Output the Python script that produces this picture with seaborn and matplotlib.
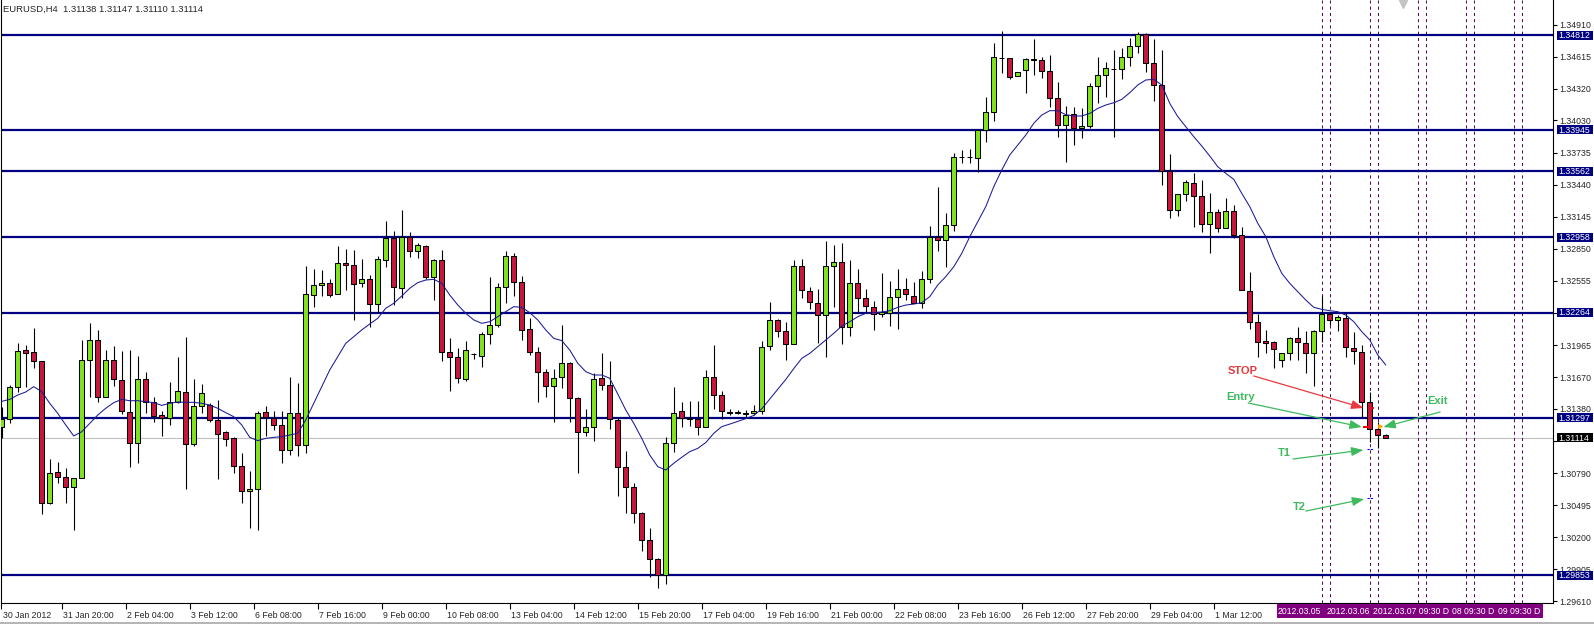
import numpy as np
import pandas as pd
import matplotlib
matplotlib.use("Agg")
import matplotlib.pyplot as plt
import matplotlib.transforms as mtransforms
from matplotlib.patches import Rectangle
from matplotlib.lines import Line2D
import seaborn as sns

# EURUSD H4 candles (bar 0 = leftmost)
opens = [
    1.31210, 1.31284, 1.31578, 1.31918, 1.31899, 1.31817, 1.30518, 1.30797, 1.30751, 1.30659,
    1.30742, 1.31826, 1.32010, 1.31492, 1.31826, 1.31642, 1.31348, 1.31063, 1.31651, 1.31440,
    1.31320, 1.31299, 1.31440, 1.31532, 1.31054, 1.31403, 1.31418, 1.31275, 1.31164, 1.31109,
    1.30852, 1.30622, 1.30640, 1.31348, 1.31293, 1.31229, 1.30999, 1.31339, 1.31045, 1.32423,
    1.32515, 1.32533, 1.32432, 1.32717, 1.32699, 1.32534, 1.32570, 1.32341, 1.32748, 1.32947,
    1.32488, 1.32962, 1.32831, 1.32874, 1.32595, 1.32748, 1.31906, 1.31854, 1.31658, 1.31884,
    1.31863, 1.32065, 1.32148, 1.32497, 1.32782, 1.32543, 1.32111, 1.31900, 1.31716, 1.31587,
    1.31670, 1.31799, 1.31477, 1.31164, 1.31210, 1.31661, 1.31596, 1.31278, 1.30843, 1.30659,
    1.30420, 1.30175, 1.30000, 1.29854, 1.31070, 1.31360, 1.31293, 1.31290, 1.31210, 1.31670,
    1.31504, 1.31340, 1.31340, 1.31330, 1.31345, 1.31360, 1.31954, 1.32193, 1.32092, 1.31976,
    1.32689, 1.32466, 1.32356, 1.32239, 1.32689, 1.32726, 1.32132, 1.32533, 1.32398, 1.32316,
    1.32248, 1.32264, 1.32405, 1.32481, 1.32414, 1.32349, 1.32570, 1.32962, 1.32928, 1.33066,
    1.33691, 1.33691, 1.33682, 1.33939, 1.34105, 1.34604, 1.34601, 1.34435, 1.34491, 1.34589,
    1.34582, 1.34481, 1.34233, 1.33985, 1.34086, 1.33958, 1.33976, 1.34346, 1.34445, 1.34503,
    1.34500, 1.34610, 1.34711, 1.34821, 1.34555, 1.34353, 1.33569, 1.33204, 1.33351, 1.33452,
    1.33333, 1.33077, 1.33186, 1.33039, 1.33201, 1.32974, 1.32460, 1.32175, 1.32003, 1.31991,
    1.31826, 1.31890, 1.32031, 1.31982, 1.31890, 1.32095, 1.32252, 1.32196, 1.32212, 1.31936,
    1.31899, 1.31446, 1.31192, 1.31138,
]
highs = [
    1.31400, 1.31599, 1.31982, 1.31967, 1.32126, 1.31817, 1.30919, 1.30895, 1.30833, 1.30742,
    1.32013, 1.32166, 1.32105, 1.31921, 1.31958, 1.31912, 1.31921, 1.31866, 1.31716, 1.31486,
    1.31357, 1.31627, 1.31856, 1.32040, 1.31651, 1.31608, 1.31430, 1.31458, 1.31180, 1.31120,
    1.30971, 1.30809, 1.31357, 1.31403, 1.31357, 1.31357, 1.31673, 1.31618, 1.32693, 1.32665,
    1.32653, 1.32573, 1.32876, 1.32849, 1.32840, 1.32754, 1.32607, 1.32785, 1.33106, 1.33011,
    1.33207, 1.33005, 1.32901, 1.32883, 1.32754, 1.32840, 1.32028, 1.31936, 1.32001, 1.31897,
    1.32083, 1.32589, 1.32534, 1.32831, 1.32812, 1.32598, 1.32212, 1.31946, 1.31743, 1.31743,
    1.32148, 1.31810, 1.31486, 1.31376, 1.31713, 1.31893, 1.31817, 1.31305, 1.30990, 1.30696,
    1.30432, 1.30288, 1.30010, 1.31125, 1.31578, 1.31446, 1.31449, 1.31455, 1.31737, 1.31964,
    1.31540, 1.31380, 1.31370, 1.31370, 1.31420, 1.32003, 1.32359, 1.32209, 1.32181, 1.32748,
    1.32754, 1.32503, 1.32478, 1.32922, 1.32882, 1.32904, 1.32751, 1.32665, 1.32478, 1.32371,
    1.32625, 1.32555, 1.32668, 1.32585, 1.32542, 1.32643, 1.33060, 1.33421, 1.33183, 1.33728,
    1.33758, 1.33765, 1.33939, 1.34242, 1.34739, 1.34852, 1.34601, 1.34472, 1.34601, 1.34778,
    1.34610, 1.34634, 1.34386, 1.34163, 1.34151, 1.34141, 1.34371, 1.34610, 1.34564, 1.34674,
    1.34693, 1.34785, 1.34840, 1.34837, 1.34778, 1.34674, 1.33722, 1.33351, 1.33486, 1.33550,
    1.33480, 1.33360, 1.33213, 1.33314, 1.33250, 1.33054, 1.32634, 1.32248, 1.32101, 1.32000,
    1.31890, 1.32037, 1.32132, 1.32095, 1.32105, 1.32417, 1.32267, 1.32242, 1.32258, 1.32089,
    1.31967, 1.31538, 1.31256, 1.31147,
]
lows = [
    1.31109, 1.31247, 1.31538, 1.31584, 1.31758, 1.30411, 1.30506, 1.30696, 1.30518, 1.30267,
    1.30742, 1.31492, 1.31446, 1.31492, 1.31590, 1.31333, 1.30849, 1.30886, 1.31339, 1.31262,
    1.31130, 1.31232, 1.31431, 1.30643, 1.31039, 1.31339, 1.31260, 1.30738, 1.31039, 1.30794,
    1.30518, 1.30282, 1.30267, 1.31130, 1.31186, 1.30886, 1.30956, 1.30950, 1.30971, 1.32313,
    1.32417, 1.32405, 1.32432, 1.32472, 1.32200, 1.32497, 1.32135, 1.32258, 1.32687, 1.32331,
    1.32396, 1.32779, 1.32763, 1.32570, 1.32380, 1.31823, 1.31547, 1.31621, 1.31639, 1.31841,
    1.31768, 1.31979, 1.32129, 1.32350, 1.32414, 1.32016, 1.31878, 1.31446, 1.31492, 1.31262,
    1.31569, 1.31262, 1.30788, 1.31134, 1.31082, 1.31553, 1.31192, 1.30576, 1.30426, 1.30328,
    1.30074, 1.29832, 1.29731, 1.29768, 1.30987, 1.31217, 1.31223, 1.31143, 1.31210, 1.31376,
    1.31290, 1.31320, 1.31330, 1.31300, 1.31320, 1.31330, 1.31921, 1.32037, 1.31829, 1.31976,
    1.32395, 1.32294, 1.31982, 1.31853, 1.32313, 1.31976, 1.32049, 1.32258, 1.32258, 1.32104,
    1.32227, 1.32141, 1.32110, 1.32380, 1.32356, 1.32303, 1.32533, 1.32833, 1.32686, 1.33017,
    1.33636, 1.33636, 1.33559, 1.33829, 1.34028, 1.34463, 1.34411, 1.34435, 1.34279, 1.34448,
    1.34423, 1.34157, 1.33881, 1.33651, 1.33804, 1.33872, 1.33960, 1.34193, 1.34242, 1.33881,
    1.34411, 1.34530, 1.34653, 1.34478, 1.34212, 1.33440, 1.33137, 1.33152, 1.33293, 1.33048,
    1.33002, 1.32809, 1.33002, 1.33039, 1.32947, 1.32472, 1.32110, 1.31859, 1.31890, 1.31758,
    1.31761, 1.31829, 1.31829, 1.31712, 1.31593, 1.31997, 1.32150, 1.32095, 1.31859, 1.31789,
    1.31308, 1.31078, 1.31023, 1.31110,
]
closes = [
    1.31284, 1.31578, 1.31909, 1.31896, 1.31817, 1.30512, 1.30787, 1.30751, 1.30659, 1.30742,
    1.31826, 1.32010, 1.31492, 1.31826, 1.31651, 1.31357, 1.31063, 1.31651, 1.31440, 1.31317,
    1.31299, 1.31440, 1.31541, 1.31054, 1.31403, 1.31523, 1.31275, 1.31146, 1.31100, 1.30852,
    1.30622, 1.30640, 1.31339, 1.31302, 1.31229, 1.30999, 1.31339, 1.31045, 1.32432, 1.32515,
    1.32533, 1.32423, 1.32717, 1.32699, 1.32524, 1.32570, 1.32341, 1.32754, 1.32947, 1.32497,
    1.32962, 1.32831, 1.32883, 1.32595, 1.32748, 1.31906, 1.31854, 1.31661, 1.31918, 1.31887,
    1.32065, 1.32148, 1.32497, 1.32782, 1.32543, 1.32102, 1.31900, 1.31716, 1.31587, 1.31661,
    1.31799, 1.31477, 1.31164, 1.31210, 1.31651, 1.31596, 1.31284, 1.30843, 1.30659, 1.30420,
    1.30175, 1.30000, 1.29854, 1.31070, 1.31345, 1.31293, 1.31284, 1.31210, 1.31676, 1.31504,
    1.31360, 1.31355, 1.31355, 1.31345, 1.31360, 1.31945, 1.32193, 1.32092, 1.31976, 1.32689,
    1.32472, 1.32362, 1.32239, 1.32689, 1.32726, 1.32132, 1.32533, 1.32398, 1.32325, 1.32248,
    1.32267, 1.32405, 1.32481, 1.32432, 1.32356, 1.32570, 1.32962, 1.32928, 1.33066, 1.33691,
    1.33694, 1.33694, 1.33939, 1.34105, 1.34610, 1.34607, 1.34432, 1.34472, 1.34592, 1.34592,
    1.34481, 1.34233, 1.33985, 1.34083, 1.33958, 1.33976, 1.34343, 1.34445, 1.34509, 1.34506,
    1.34610, 1.34711, 1.34821, 1.34555, 1.34353, 1.33562, 1.33204, 1.33351, 1.33461, 1.33333,
    1.33077, 1.33186, 1.33039, 1.33201, 1.32974, 1.32472, 1.32175, 1.31994, 1.31982, 1.31927,
    1.31890, 1.32031, 1.31991, 1.31890, 1.32095, 1.32252, 1.32196, 1.32224, 1.31951, 1.31912,
    1.31446, 1.31192, 1.31137, 1.31114,
]
# moving average line, read point by point
ma = [
    1.31449, 1.31467, 1.31507, 1.31535, 1.31584, 1.31538, 1.31431, 1.31339, 1.31232, 1.31131,
    1.31170, 1.31247, 1.31323, 1.31385, 1.31437, 1.31467, 1.31455, 1.31455, 1.31446, 1.31437,
    1.31412, 1.31431, 1.31443, 1.31440, 1.31440, 1.31431, 1.31415, 1.31385, 1.31345, 1.31308,
    1.31232, 1.31118, 1.31088, 1.31109, 1.31118, 1.31124, 1.31140, 1.31155, 1.31278, 1.31431,
    1.31584, 1.31737, 1.31860, 1.31982, 1.32044, 1.32105, 1.32160, 1.32212, 1.32304, 1.32350,
    1.32417, 1.32488, 1.32540, 1.32564, 1.32570, 1.32534, 1.32426, 1.32335, 1.32258, 1.32197,
    1.32166, 1.32181, 1.32227, 1.32273, 1.32319, 1.32313, 1.32264, 1.32197, 1.32105, 1.32028,
    1.32007, 1.31921, 1.31799, 1.31722, 1.31691, 1.31691, 1.31661, 1.31517, 1.31370, 1.31247,
    1.31109, 1.30956, 1.30849, 1.30818, 1.30880, 1.30935, 1.30987, 1.31017, 1.31070, 1.31155,
    1.31217, 1.31240, 1.31265, 1.31290, 1.31320, 1.31380, 1.31470, 1.31560, 1.31650, 1.31750,
    1.31844, 1.31890, 1.31951, 1.32013, 1.32074, 1.32141, 1.32181, 1.32227, 1.32258, 1.32264,
    1.32270, 1.32282, 1.32313, 1.32334, 1.32343, 1.32356, 1.32411, 1.32518, 1.32595, 1.32686,
    1.32809, 1.32962, 1.33100, 1.33238, 1.33422, 1.33575, 1.33713, 1.33804, 1.33896, 1.34004,
    1.34080, 1.34120, 1.34120, 1.34083, 1.34071, 1.34071, 1.34095, 1.34141, 1.34172, 1.34193,
    1.34224, 1.34285, 1.34356, 1.34402, 1.34408, 1.34356, 1.34187, 1.34065, 1.33973, 1.33881,
    1.33795, 1.33703, 1.33605, 1.33544, 1.33489, 1.33360, 1.33238, 1.33085, 1.32962, 1.32778,
    1.32625, 1.32533, 1.32457, 1.32380, 1.32313, 1.32294, 1.32282, 1.32273, 1.32242, 1.32181,
    1.32089, 1.32013, 1.31875, 1.31783,
]

levels = [1.34812, 1.33945, 1.33562, 1.32958, 1.32264, 1.31297, 1.29853]
last_price = 1.31114
price_ticks = [1.34910, 1.34615, 1.34320, 1.34030, 1.33735, 1.33440, 1.33145, 1.32850,
               1.32555, 1.32260, 1.31965, 1.31670, 1.31380, 1.31085, 1.30790, 1.30495,
               1.30200, 1.29905, 1.29610]
hidden_ticks = [1.32260, 1.31085]  # fully covered by the line boxes
first_label = "30 Jan 2012"
time_labels = ["31 Jan 20:00", "2 Feb 04:00", "3 Feb 12:00", "6 Feb 08:00", "7 Feb 16:00",
               "9 Feb 00:00", "10 Feb 08:00", "13 Feb 04:00", "14 Feb 12:00", "15 Feb 20:00",
               "17 Feb 04:00", "19 Feb 16:00", "21 Feb 00:00", "22 Feb 08:00", "23 Feb 16:00",
               "26 Feb 12:00", "27 Feb 20:00", "29 Feb 04:00", "1 Mar 12:00"]
vline_bars = [165, 166, 171, 172, 177, 178, 183, 184, 189, 190]
event_labels = ["2012.03.05", "2012.03.06", "2012.03.07 09:30 D", "08 09:30 D", "09 09:30 D"]

df = pd.DataFrame({"open": opens, "high": highs, "low": lows, "close": closes, "ma": ma})
df["bar"] = np.arange(len(df))
up = df["close"] >= df["open"]
body_lo = df[["open", "close"]].min(axis=1)
body_hi = df[["open", "close"]].max(axis=1)

sns.set_style("white")
plt.rcParams["font.family"] = ["Liberation Sans", "DejaVu Sans"]

W, H = 1594, 624
fig = plt.figure(figsize=(W / 100, H / 100), dpi=100)
ax = fig.add_axes([1 / W, 21 / H, 1552 / W, 603 / H])
ymin, ymax = 1.29596, 1.35137
ax.set_xlim(-0.09, 193.9)
ax.set_ylim(ymin, ymax)

# support / resistance lines, current price, event lines
for lv in levels:
    ax.axhline(lv, color="#000080", lw=1.6, zorder=2)
ax.axhline(last_price, color="#c0c0c0", lw=0.8, zorder=1)
for b in vline_bars:
    ax.axvline(b, color="#5c0a5c", lw=0.75, ls=(0, (3, 3)), zorder=1)

# candles
ax.vlines(df["bar"], df["low"], df["high"], color="black", lw=0.8, zorder=3)
ax.bar(df["bar"], (body_hi - body_lo).clip(lower=0.00001), bottom=body_lo, width=0.58,
       color=np.where(up, "#80e31e", "#c8173c"), edgecolor="black", linewidth=0.75, zorder=4)

# moving average
sns.lineplot(data=df, x="bar", y="ma", color="#1a1a96", lw=0.75, ax=ax, zorder=5)
ax.set_xlabel("")
ax.set_ylabel("")

# price axis on the right
ax.yaxis.tick_right()
ax.set_yticks(price_ticks)
ax.set_yticklabels(["" if p in hidden_ticks else f"{p:.5f}" for p in price_ticks])
ax.tick_params(axis="y", right=True, left=False, labelright=True, labelleft=False,
               length=3, width=0.8, pad=1.5, labelsize=6.3, direction="out", color="black")

# time axis
xt = [-0.05] + [7.5 + 8 * j for j in range(24)]
ax.set_xticks(xt)
ax.set_xticklabels([first_label] + time_labels + [""] * (len(xt) - 1 - len(time_labels)))
ax.tick_params(axis="x", bottom=True, length=4, width=0.8, pad=1.5, labelsize=6.3,
               direction="out", color="black")
offset = mtransforms.ScaledTranslation(1.5 / 100, 0, fig.dpi_scale_trans)
for lbl in ax.get_xticklabels():
    lbl.set_ha("left")
    lbl.set_transform(lbl.get_transform() + offset)

for s in ["left", "right", "bottom"]:
    ax.spines[s].set_color("black")
    ax.spines[s].set_linewidth(0.8)
ax.spines["top"].set_visible(False)

# price boxes for the lines
ppx = (ymax - ymin) / 603
trans = mtransforms.blended_transform_factory(ax.transAxes, ax.transData)
bx0 = 3.5 / 1552
bw = 36 / 1552
for lv, fc in [(v, "#000080") for v in levels] + [(last_price, "black")]:
    ax.add_patch(Rectangle((1 + bx0, lv - 4.5 * ppx), bw, 9 * ppx, transform=trans,
                           fc=fc, ec="none", clip_on=False, zorder=10))
    ax.text(1 + bx0 + 1.5 / 1552, lv - 0.3 * ppx, f"{lv:.5f}", transform=trans, ha="left",
            va="center", color="white", fontsize=6.3, clip_on=False, zorder=11)

# title
fig.text(3 / W, 1 - 9 / H,
         f"EURUSD,H4  {opens[-1]:.5f} {highs[-1]:.5f} {lows[-1]:.5f} {closes[-1]:.5f}",
         fontsize=6.8, ha="left", va="center")

# trade notes
red, green = "#e9393e", "#3dba5d"


def note(text, color, at, tail, tip):
    ax.text(at[0], at[1], text, color=color, fontsize=8, fontweight="bold",
            ha="left", va="center", zorder=8)
    ax.annotate("", xy=tip, xytext=tail, zorder=8,
                arrowprops=dict(arrowstyle="-|>,head_length=0.4,head_width=0.15", color=color,
                                lw=0.9, shrinkA=0, shrinkB=0, mutation_scale=18))


note("STOP", red, (153.2, 1.31728), (156.5, 1.31682), (170.2, 1.31388))
note("Entry", green, (153.0, 1.31489), (155.8, 1.31434), (170.0, 1.31213))
note("Exit", green, (178.2, 1.31454), (179.8, 1.31351), (172.7, 1.31213))
note("T1", green, (159.5, 1.30971), (161.4, 1.30919), (170.2, 1.31002))
note("T2", green, (161.4, 1.30481), (163.0, 1.30441), (170.3, 1.30551))

# order markers on the entry candle
ax.plot([170.6, 171.4], [1.31009, 1.31009], color="#0000ff", lw=0.8, ls=(0, (2, 1)), zorder=6)
ax.plot([170.6, 171.4], [1.30558, 1.30558], color="#0000ff", lw=0.8, ls=(0, (2, 1)), zorder=6)
ax.plot(170.55, 1.31216, marker="_", color="red", ms=4, mew=1.5, zorder=6)
ax.plot(171.25, 1.31390, marker="_", color="red", ms=3, mew=1.2, zorder=6)
ax.plot(172.3, 1.31222, marker=">", color="orange", ms=2.5, zorder=6)

# chart shift marker at the top
ax.plot(175.2, ymax - 4 * ppx, marker="v", color="#c4c4c4", ms=6, clip_on=False, zorder=6)

# event labels along the bottom
fig.patches.append(Rectangle((1277 / W, 1 - 618 / H), (1543 - 1277) / W, 14.5 / H,
                             transform=fig.transFigure, fc="#800080", ec="none", zorder=5))
for x0, txt in zip([1278, 1327, 1373, 1452, 1498], event_labels):
    fig.text(x0 / W, 1 - 611 / H, txt, color="white", fontsize=6.2, ha="left", va="center",
             zorder=6)

fig.add_artist(Line2D([0, 1], [1 - 622.5 / H] * 2, transform=fig.transFigure,
                      color="#a8a8a8", lw=1.2))

fig.savefig("out.png", dpi=100)
